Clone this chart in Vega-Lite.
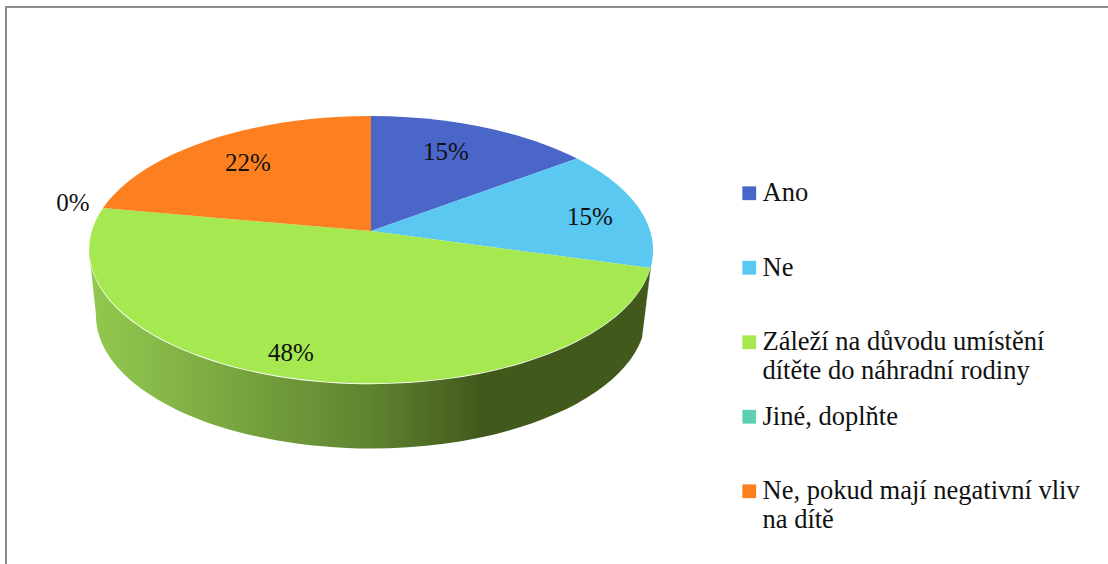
{
  "$schema": "https://vega.github.io/schema/vega-lite/v6.json",
  "width": 1104,
  "height": 560,
  "padding": {"left": 6, "top": 7, "right": 0, "bottom": 0},
  "autosize": {"type": "none"},
  "background": "white",
  "view": {"stroke": "#8c8c8c", "strokeWidth": 2},
  "config": {
    "text": {"font": "Liberation Serif", "fontSize": 25, "color": "#111111"}
  },
  "datasets": {
    "slices": [
      {"odpoved": "Ano", "procent": 15, "popisek": "15%"},
      {"odpoved": "Ne", "procent": 15, "popisek": "15%"},
      {"odpoved": "Záleží na důvodu umístění dítěte do náhradní rodiny", "procent": 48, "popisek": "48%"},
      {"odpoved": "Jiné, doplňte", "procent": 0, "popisek": "0%"},
      {"odpoved": "Ne, pokud mají negativní vliv na dítě", "procent": 22, "popisek": "22%"}
    ]
  },
  "data": {"name": "slices"},
  "layer": [
    {
      "transform": [{"filter": "datum.odpoved == 'Ne'"}],
      "mark": {"type": "point", "filled": true, "opacity": 1, "size": 4, "xOffset": -187, "yOffset": -56, "shape": "M279.5,37 L282,19 L274,84 L271,107 Z", "color": "#2f5f88"},
      "encoding": {}
    },
    {
      "transform": [{"filter": "datum.procent == 48"}],
      "mark": {
        "type": "point", "filled": true, "opacity": 1, "size": 4, "xOffset": -187, "yOffset": -56,
        "shape": "M-282,19 A282,134 0 0 0 279.5,37 L271,107 A275,133 0 0 1 -275,84 Z",
        "color": {
          "gradient": "linear", "x1": 0, "x2": 1, "y1": 0, "y2": 0,
          "stops": [
            {"offset": 0, "color": "#93c94f"},
            {"offset": 0.2, "color": "#7fae43"},
            {"offset": 0.5, "color": "#5f8330"},
            {"offset": 0.7, "color": "#42591c"},
            {"offset": 1, "color": "#42591c"}
          ]
        }
      },
      "encoding": {}
    },
    {
      "transform": [{"filter": "datum.odpoved == 'Ano'"}],
      "mark": {"type": "point", "filled": true, "opacity": 1, "size": 4, "xOffset": -187, "yOffset": -56, "color": "#4a66c8", "shape": "M0,0 L0,-115 A282,134 0 0 1 206,-72.5 Z"},
      "encoding": {}
    },
    {
      "transform": [{"filter": "datum.odpoved == 'Ne'"}],
      "mark": {"type": "point", "filled": true, "opacity": 1, "size": 4, "xOffset": -187, "yOffset": -56, "color": "#5ac8f0", "shape": "M0,0 L206,-72.5 A282,134 0 0 1 279.5,37 Z"},
      "encoding": {}
    },
    {
      "transform": [{"filter": "datum.procent == 48"}],
      "mark": {"type": "point", "filled": true, "opacity": 1, "size": 4, "xOffset": -187, "yOffset": -56, "color": "#a6e850", "shape": "M0,0 L279.5,37 A282,134 0 1 1 -268,-23 Z"},
      "encoding": {}
    },
    {
      "transform": [{"filter": "datum.procent == 22"}],
      "mark": {"type": "point", "filled": true, "opacity": 1, "size": 4, "xOffset": -187, "yOffset": -56, "color": "#fd8020", "shape": "M0,0 L-268,-23 A282,134 0 0 1 0,-115 Z"},
      "encoding": {}
    },
    {
      "mark": {"type": "square", "size": 0, "opacity": 1},
      "encoding": {
        "color": {
          "field": "odpoved", "type": "nominal",
          "sort": null,
          "scale": {
            "domain": ["Ano", "Ne", "Záleží na důvodu umístění dítěte do náhradní rodiny", "Jiné, doplňte", "Ne, pokud mají negativní vliv na dítě"],
            "range": ["#4a66c8", "#5ac8f0", "#a6e850", "#5fcfb4", "#fd8020"]
          },
          "legend": {
            "title": null,
            "orient": "none",
            "legendX": 730,
            "legendY": 173,
            "symbolType": "square",
            "symbolSize": 190,
            "symbolStrokeWidth": 0,
            "labelFont": "Liberation Serif",
            "labelFontSize": 26.5,
            "labelColor": "#111111",
            "labelLimit": 400,
            "labelOffset": 0,
            "rowPadding": 18.5,
            "gridAlign": "all",
            "encoding": {"labels": {"update": {"lineHeight": {"value": 30}}}},
            "labelExpr": "datum.label == 'Záleží na důvodu umístění dítěte do náhradní rodiny' ? ['Záleží na důvodu umístění', 'dítěte do náhradní rodiny'] : datum.label == 'Ne, pokud mají negativní vliv na dítě' ? ['Ne, pokud mají negativní vliv', 'na dítě'] : datum.label"
          }
        }
      }
    },
    {"transform": [{"filter": "datum.odpoved == 'Ano'"}], "mark": {"type": "text", "dx": -112, "dy": -135}, "encoding": {"text": {"field": "popisek"}}},
    {"transform": [{"filter": "datum.odpoved == 'Ne'"}], "mark": {"type": "text", "dx": 32, "dy": -70}, "encoding": {"text": {"field": "popisek"}}},
    {"transform": [{"filter": "datum.procent == 48"}], "mark": {"type": "text", "dx": -267, "dy": 66}, "encoding": {"text": {"field": "popisek"}}},
    {"transform": [{"filter": "datum.procent == 0"}], "mark": {"type": "text", "dx": -485, "dy": -84}, "encoding": {"text": {"field": "popisek"}}},
    {"transform": [{"filter": "datum.procent == 22"}], "mark": {"type": "text", "dx": -310, "dy": -124}, "encoding": {"text": {"field": "popisek"}}}
  ]
}
